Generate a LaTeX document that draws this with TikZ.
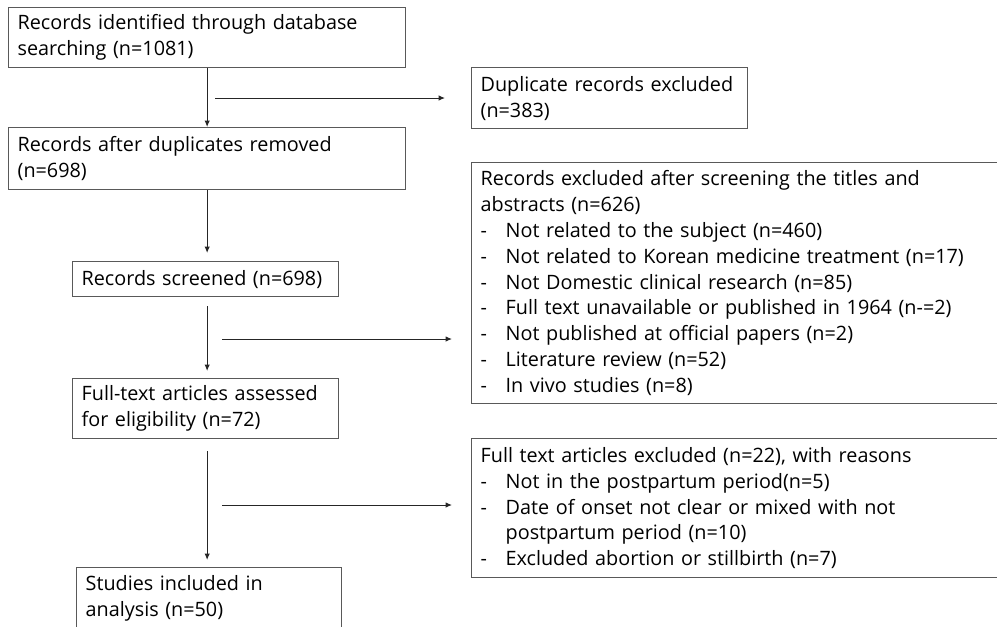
\documentclass[tikz,border=0pt]{standalone}
\usepackage{fontspec}
\setmainfont{Open Sans}
\usetikzlibrary{arrows.meta}

\newcommand{\dashitem}[1]{\makebox[25pt][l]{-}#1}
\newcommand{\contline}[1]{\hspace*{25pt}#1}

\begin{document}
\begin{tikzpicture}[x=1pt, y=-1pt,
    stage/.style={rectangle, draw=black!65, line width=1.3pt, anchor=north west, align=left, inner xsep=9pt, inner ysep=0pt, font=\fontsize{19.8}{25.8}\selectfont},
    arrow/.style={-{Latex[length=6.5pt, width=5.5pt]}, line width=1pt, draw=black!85}
]
\useasboundingbox (0,0) rectangle (997,627);

% ==== Main flow ====
\node[stage, text width=379pt, minimum height=60pt] (identified) at (8,7) {Records identified through database\\searching (n=1081)};
\node[stage, text width=379pt, minimum height=62pt] (afterdup) at (8,127) {Records after duplicates removed\\(n=698)};
\node[stage, text width=248pt, minimum height=35pt] (screened) at (72,261) {Records screened (n=698)};
\node[stage, text width=248pt, minimum height=60pt] (fulltext) at (72,378) {Full-text articles assessed\\for eligibility (n=72)};
\node[stage, text width=247pt, minimum height=62pt] (included) at (76,567) {Studies included in\\analysis (n=50)};

% ==== Exclusions ====
\node[stage, text width=258pt, minimum height=61pt] (dupexcl) at (471,67) {Duplicate records excluded\\(n=383)};
\node[stage, text width=522pt, minimum height=241pt] (screenexcl) at (471,162) {Records excluded after screening the titles and\\abstracts (n=626)\\
    \dashitem{Not related to the subject (n=460)}\\
    \dashitem{Not related to Korean medicine treatment (n=17)}\\
    \dashitem{Not Domestic clinical research (n=85)}\\
    \dashitem{Full text unavailable or published in 1964 (n-=2)}\\
    \dashitem{Not published at official papers (n=2)}\\
    \dashitem{Literature review (n=52)}\\
    \dashitem{In vivo studies (n=8)}};
\node[stage, text width=522pt, minimum height=139pt] (ftexcl) at (471,438) {Full text articles excluded (n=22), with reasons\\
    \dashitem{Not in the postpartum period(n=5)}\\
    \dashitem{Date of onset not clear or mixed with not}\\
    \contline{postpartum period (n=10)}\\
    \dashitem{Excluded abortion or stillbirth (n=7)}};

% ==== Branch points ====
\coordinate (dupbranch) at (215,98);
\coordinate (screenbranch) at (222,339);
\coordinate (ftbranch) at (222,505);

% ==== Relations ====
\draw[arrow] (identified.south) -- (afterdup.north);
\draw[arrow, shorten >=8pt] (afterdup.south) -- (afterdup.south |- screened.north);
\draw[arrow, shorten <=9pt, shorten >=7pt] (screened.south -| afterdup.south) -- (afterdup.south |- fulltext.north);
\draw[arrow, shorten <=12pt, shorten >=7pt] (fulltext.south -| afterdup.south) -- (afterdup.south |- included.north);

\draw[arrow, shorten >=26pt] (dupbranch) -- (dupbranch -| dupexcl.west);
\draw[arrow, shorten >=19pt] (screenbranch) -- (screenbranch -| screenexcl.west);
\draw[arrow, shorten >=19pt] (ftbranch) -- (ftbranch -| ftexcl.west);

\end{tikzpicture}
\end{document}
